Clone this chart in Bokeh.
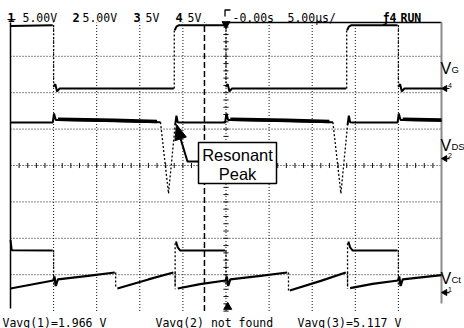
import numpy as np
from bokeh.plotting import figure
from bokeh.models import Range1d
from bokeh.embed import file_html
from bokeh.resources import INLINE
from bokeh.core.properties import value

nan = float("nan")

# ---------------- scope settings ----------------
TIME_DIVS = [-20, -15, -10, -5, 0, 5, 10, 15, 20]          # µs, 5 µs/div
VOLT_DIVS = [-3, -2, -1, 0, 1, 2, 3]                        # screen divisions
VOLTS_PER_DIV = {"1": 5.0, "2": 5.0, "3": 5.0, "4": 5.0}
REF_DIV = {"1": -3.49, "2": 0.19, "3": -3.49, "4": 2.115}  # ground markers
CURSOR_T = [-2.5]

# ---------------- channel 4 : V_G ----------------
vg_t = [-25.0, -20.1, nan, -20.0, -19.8, -19.6, -19.3, -6.05, nan, -5.95, -5.75, -5.45, -0.1,
        nan, 0.0, 0.2, 0.4, 0.7, 13.95, nan, 14.05, 14.25, 14.55, 19.9,
        nan, 20.0, 20.2, 20.4, 20.7, 25.0]
vg_v = [8.6, 8.7, nan, 0.3, 0.6, -0.4, 0.0, 0.0, nan, 8.0, 8.5, 8.7, 8.7,
        nan, 0.3, 0.6, -0.4, 0.0, 0.0, nan, 8.0, 8.5, 8.7, 8.7,
        nan, 0.3, 0.6, -0.4, 0.0, 0.0]
vg_edge_t = [-20.0, -6.0, 0.0, 14.0, 20.0]
vg_edge_from = [8.7, 0.0, 8.7, 0.0, 8.7]
vg_edge_to = [0.0, 8.0, 0.0, 8.0, 0.0]

# ---------------- channel 2 : V_DS ----------------
vds_t = [-25.0, -20.1, -19.95, -19.75, -19.5, -7.6, nan, -5.9, -5.75, -5.6, -5.3, -0.1,
         0.05, 0.25, 0.5, 12.4, nan, 14.1, 14.25, 14.4, 14.7, 19.9,
         20.05, 20.25, 20.5, 25.0]
vds_v = [4.95, 4.95, 6.2, 5.3, 5.3, 5.0, nan, 4.6, 5.9, 5.0, 4.95, 4.95,
         6.2, 5.3, 5.3, 5.0, nan, 4.6, 5.9, 5.0, 4.95, 4.95,
         6.2, 5.3, 5.3, 5.2]
vds_ring_t = [-19.5, -13.0, -8.0, nan, 0.5, 7.0, 12.0, nan, 20.5, 25.0]
vds_ring_v = [5.4, 5.25, 5.1, nan, 5.4, 5.25, 5.1, nan, 5.4, 5.3]
vds_dip_t = [-7.6, -6.67, -5.9, nan, 12.4, 13.33, 14.1]
vds_dip_v = [5.0, -4.8, 4.6, nan, 5.0, -4.8, 4.6]

# ---------------- channel 1 : V_Ct ----------------
vct_t = [-25.0, -20.05, -19.9, -19.75, -19.5, -16.0, -12.9, nan, -12.6, -9.0, -6.1, nan,
         -5.6, -3.0, -0.05, 0.1, 0.25, 0.5, 4.0, 7.1, nan, 7.4, 11.0, 13.9, nan,
         14.4, 17.0, 19.95, 20.1, 20.25, 20.5, 25.0]
vct_v = [0.55, 1.65, 2.2, 0.9, 1.8, 2.3, 2.75, nan, 0.55, 1.8, 2.75, nan,
         0.55, 1.15, 1.65, 2.2, 0.9, 1.8, 2.3, 2.75, nan, 0.27, 1.6, 2.75, nan,
         0.6, 1.2, 1.65, 2.2, 0.9, 1.8, 2.4]
vct_edge_t = [-12.8, -5.9, 7.25, 14.1]
vct_edge_from = [2.75, 2.75, 2.75, 2.75]
vct_edge_to = [0.55, 0.45, 0.27, 0.5]

# ---------------- channel 3 ----------------
ch3_t = [-25.0, -24.85, -20.1, nan, -5.8, -5.6, -5.3, -0.1, nan, 14.2, 14.4, 14.7, 19.9]
ch3_v = [7.2, 5.8, 5.77, nan, 7.0, 6.2, 5.77, 5.77, nan, 7.0, 6.2, 5.77, 5.77]
ch3_edge_t = [-20.0, -5.9, 0.0, 14.1, 20.0]
ch3_edge_from = [5.77, 1.0, 5.77, 1.0, 5.77]
ch3_edge_to = [1.0, 7.0, 1.0, 7.0, 1.0]

# ---------------- texts ----------------
header_ch = ["1", "2", "3", "4"]
header_scale = ["5.00V", "5.00V", "5V", "5V"]
header_time = ["-0.00s", "5.00\u00b5s/"]
header_trig = ["\u01924", "RUN"]
meas_texts = ["Vavg(1)=1.966 V", "Vavg(2) not found", "Vavg(3)=5.117 V"]
trace_names = [("V", "G"), ("V", "DS"), ("V", "Ct")]
callout_lines = ["Resonant", "Peak"]

# ---------------- geometry (screen pixels -> data) ----------------
W, H = 464, 328
PX_PER_US = 8.62
PX_PER_DIV = 36.4
X_CENTER, Y_CENTER = 225.5, 165.0
X0 = -X_CENTER / PX_PER_US
X1 = (W - X_CENTER) / PX_PER_US
Y1 = Y_CENTER / PX_PER_DIV
Y0 = -(H - Y_CENTER) / PX_PER_DIV


def tx(px):
    return (px - X_CENTER) / PX_PER_US


def dy(py):
    return (Y_CENTER - py) / PX_PER_DIV


def scr(ch, volts):
    return REF_DIV[ch] + np.asarray(volts, dtype=float) / VOLTS_PER_DIV[ch]


T_LEFT, T_RIGHT = tx(10), tx(441)
D_TOP, D_BOT = dy(22), dy(310.5)

p = figure(width=W, height=H, x_range=Range1d(X0, X1), y_range=Range1d(Y0, Y1),
           output_backend="svg", toolbar_location=None, title=None,
           x_axis_location=None, y_axis_location=None, min_border=0,
           outline_line_color=None, background_fill_color="white",
           border_fill_color="white")
p.xgrid.visible = False
p.ygrid.visible = False

GRID_C = "#111111"
# graticule dotted lines
p.segment(x0=TIME_DIVS, y0=[D_BOT] * len(TIME_DIVS), x1=TIME_DIVS, y1=[D_TOP] * len(TIME_DIVS),
          line_color=GRID_C, line_width=1, line_dash="1 2")
p.segment(x0=[T_LEFT] * len(VOLT_DIVS), y0=VOLT_DIVS, x1=[T_RIGHT] * len(VOLT_DIVS), y1=VOLT_DIVS,
          line_color=GRID_C, line_width=1, line_dash="1 2")
# centre-line minor ticks
tick_t = np.arange(-25, 25.01, 1.0)
p.segment(x0=tick_t, y0=-0.07, x1=tick_t, y1=0.07, line_color=GRID_C, line_width=1)
tick_d = np.arange(-4.0, 3.9, 0.2)
p.segment(x0=-0.3, y0=tick_d, x1=0.3, y1=tick_d, line_color=GRID_C, line_width=1)

# frame pieces
p.line([T_LEFT, T_LEFT], [dy(22), dy(308)], line_color="black", line_width=1.5)
p.line([0.0, T_RIGHT], [D_TOP, D_TOP], line_color="black", line_width=1.3)
p.line([T_RIGHT, T_RIGHT], [dy(22), dy(303)], line_color="#8c8c8c", line_width=2)

# cursor
for ct in CURSOR_T:
    p.line([ct, ct], [D_BOT, D_TOP], line_color="black", line_width=1.5, line_dash="6 3")

# ---------------- traces ----------------
TR = "black"
def edges(ch, t, v0, v1):
    p.segment(x0=t, y0=scr(ch, v0), x1=t, y1=scr(ch, v1), line_color=TR,
              line_width=1.3, line_dash="2 2")

edges("4", vg_edge_t, vg_edge_from, vg_edge_to)
edges("1", vct_edge_t, vct_edge_from, vct_edge_to)
edges("3", ch3_edge_t, ch3_edge_from, ch3_edge_to)

p.line(vg_t, scr("4", vg_v), line_color=TR, line_width=2)
p.line(vds_t, scr("2", vds_v), line_color=TR, line_width=2)
p.line(vds_ring_t, scr("2", vds_ring_v), line_color=TR, line_width=3.5)
p.line(vds_dip_t, scr("2", vds_dip_v), line_color=TR, line_width=1.3, line_dash="2 2")
p.line(vct_t, scr("1", vct_v), line_color=TR, line_width=2.2)
p.line(ch3_t, scr("3", ch3_v), line_color=TR, line_width=2)

# trigger / time-reference markers
p.scatter([0.0], [dy(23.5)], marker="inverted_triangle", size=8, color="black")
p.scatter([0.2], [dy(306.5)], marker="triangle", size=8, color="black")
p.line([tx(224.5), tx(224.5), tx(230)], [dy(16), dy(9.5), dy(9.5)], line_color="black", line_width=1.3)

# ---------------- header & measurement texts ----------------
MONO = value("DejaVu Sans Mono")
hx_ch = [tx(7), tx(72), tx(133), tx(175)]
hx_sc = [tx(22), tx(82), tx(145), tx(187)]
p.text(x=hx_ch, y=[dy(17)] * 4, text=header_ch, text_font=MONO, text_font_size="12px",
       text_font_style="bold", text_color="black", text_baseline="alphabetic")
p.text(x=hx_sc, y=[dy(17)] * 4, text=header_scale, text_font=MONO, text_font_size="11.5px",
       text_color="black", text_baseline="alphabetic")
p.line([tx(7), tx(15)], [dy(19), dy(19)], line_color="black", line_width=1.2)
p.text(x=[tx(232), tx(287)], y=[dy(17)] * 2, text=header_time, text_font=MONO,
       text_font_size="11.5px", text_color="black", text_baseline="alphabetic")
p.text(x=[tx(382)], y=[dy(17)], text=[header_trig[0]], text_font=MONO,
       text_font_size="11.5px", text_font_style="bold", text_color="black", text_baseline="alphabetic")
p.text(x=[tx(400)], y=[dy(17)], text=[header_trig[1]], text_font=MONO,
       text_font_size="11.5px", text_font_style="bold", text_color="black", text_baseline="alphabetic")
p.text(x=[tx(2), tx(155), tx(297)], y=[dy(322)] * 3, text=meas_texts, text_font=MONO,
       text_font_size="11.5px", text_color="black", text_baseline="alphabetic")

# ---------------- right-side trace names and ground markers ----------------
SANS = value("Liberation Sans")
name_base = [68, 145, 278]
p.text(x=[tx(440)] * 3, y=[dy(b) for b in name_base], text=[n[0] for n in trace_names],
       text_font=SANS, text_font_size="16px", text_color="black", text_baseline="alphabetic")
p.text(x=[tx(451)] * 3, y=[dy(b + 1) for b in name_base], text=[n[1] for n in trace_names],
       text_font=SANS, text_font_size="9.5px", text_color="black", text_baseline="alphabetic")

mark_ch = ["4", "2", "1"]
mark_d = [REF_DIV[c] for c in mark_ch]
p.segment(x0=[tx(444)] * 3, y0=mark_d, x1=[tx(449)] * 3, y1=mark_d, line_color="black", line_width=1.2)
p.scatter([tx(444.5)] * 3, mark_d, marker="triangle", angle=np.pi / 2, size=6, color="black")
p.text(x=[tx(447.5)] * 3, y=[d + 0.09 for d in mark_d], text=mark_ch, text_font=SANS,
       text_font_size="7px", text_color="black", text_baseline="alphabetic")

# ---------------- callout ----------------
p.quad(left=[tx(198)], right=[tx(276)], top=[dy(142)], bottom=[dy(183)],
       fill_color="white", line_color="black", line_width=1.5)
p.text(x=[tx(237), tx(237)], y=[dy(154.5), dy(173.5)], text=callout_lines, text_font=SANS,
       text_font_size="16.5px", text_color="black", text_align="center", text_baseline="middle")
p.line([tx(198), tx(187), tx(180.1)], [dy(161), dy(161), dy(138.4)], line_color="black", line_width=2)
p.patch([tx(176), tx(185.8), tx(174.4)], [dy(124), dy(136.6), dy(140.2)], fill_color="black",
        line_color="black", line_width=1)

open("out.html", "w").write(file_html(p, INLINE))
